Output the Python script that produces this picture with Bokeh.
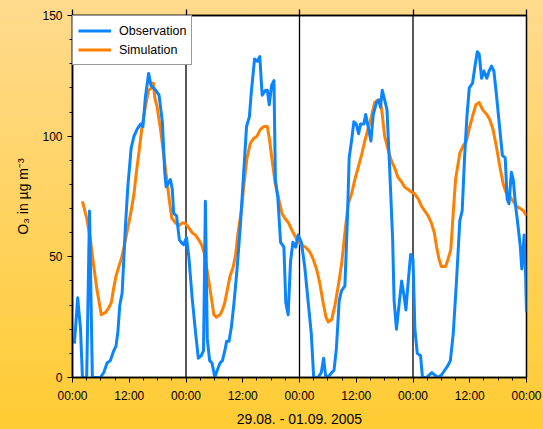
from bokeh.plotting import figure
from bokeh.models import Range1d, FixedTicker, LinearAxis, Span, Legend, LegendItem
from bokeh.embed import file_html
from bokeh.resources import INLINE

# ---- data (hours since 29.08.2005 00:00, O3 in ug/m3) ----
obs_hours = [0.4, 1.1, 1.7, 2.1, 3.0, 3.6, 4.2, 5.9, 6.6, 7.3, 8.0, 8.7, 9.2, 9.6, 10.0, 10.5,
             11.2, 11.7, 12.4, 13.0, 13.7, 14.4, 14.9, 15.4, 16.1, 16.6, 17.6, 18.3, 19.0, 19.5,
             19.8, 20.4, 20.7, 21.1, 21.4, 22.0, 22.6, 23.0, 23.5, 24.1, 24.6, 25.3, 26.0, 26.6,
             27.2, 27.7, 28.1, 28.5, 29.0, 29.5, 30.1, 30.6, 31.2, 31.7, 32.2, 32.6, 33.1, 33.6,
             34.1, 34.8, 35.5, 36.2, 36.8, 37.4, 37.8, 38.5, 39.1, 39.6, 40.1, 40.8, 41.2, 41.6,
             42.1, 42.6, 42.9, 43.4, 44.0, 44.7, 45.1, 45.6, 46.1, 46.6, 47.2, 47.7, 48.4, 49.1,
             49.8, 50.5, 51.0, 51.9, 52.6, 53.1, 53.5, 54.0, 54.8, 55.3, 55.8, 56.4, 56.9, 57.6,
             58.1, 58.5, 59.0, 59.5, 60.0, 60.5, 60.9, 61.6, 62.0, 62.5, 63.1, 63.6, 64.3, 64.8,
             65.1, 65.5, 66.0, 66.5, 67.1, 67.7, 68.0, 68.5, 69.1, 69.6, 70.1, 70.5, 71.0, 71.5,
             72.0, 72.4, 72.9, 73.6, 74.0, 74.9, 75.4, 76.0, 76.6, 77.3, 78.0, 78.7, 79.4, 79.9,
             80.5, 81.2, 81.9, 82.4, 82.9, 83.4, 83.9, 84.6, 85.1, 85.6, 86.0, 86.5, 87.0, 87.6,
             88.1, 88.6, 89.1, 89.6, 90.4, 90.9, 91.5, 91.9, 92.3, 92.8, 93.2, 93.7, 94.2, 94.7,
             95.0, 95.5, 95.8, 96.0]
obs_values = [14, 33, 20, 0, 0, 69, 0, 0, 2, 6, 7, 11, 13, 19, 30, 35,
              63, 79, 95, 100, 103, 105, 104, 116, 126, 121, 119, 117, 106, 85,
              79, 81, 82, 78, 68, 67, 57, 56, 55, 58, 50, 33, 19, 8,
              9, 11, 73, 16, 7, 6, 0, 3, 6, 7, 11, 15, 15, 21,
              30, 45, 63, 85, 104, 108, 118, 132, 131, 133, 117, 119, 119, 113,
              121, 123, 82, 75, 56, 54, 31, 26, 48, 56, 54, 59, 56, 46,
              32, 18, 0, 0, 2, 8, 1, 0, 2, 3, 12, 32, 36, 38,
              64, 91, 98, 106, 105, 101, 105, 105, 109, 104, 98, 109, 114, 115,
              112, 119, 115, 111, 85, 57, 32, 20, 31, 40, 34, 28, 40, 51,
              49, 20, 10, 9, 0, 0, 1, 2, 1, 0, 1, 3, 5, 7,
              18, 40, 65, 69, 91, 108, 120, 122, 129, 135, 134, 124, 127, 124,
              127, 129, 127, 118, 102, 92, 91, 74, 72, 85, 82, 71, 63, 54,
              45, 59, 43, 27]

sim_hours = [2.1, 3.0, 3.8, 4.5, 5.2, 6.1, 7.0, 7.7, 8.2, 8.7, 9.2, 9.8, 10.3, 10.9, 11.6, 12.3,
             13.0, 13.5, 14.1, 14.7, 15.4, 16.1, 16.7, 17.1, 17.4, 17.9, 18.6, 19.3, 20.0, 20.5,
             21.0, 21.8, 22.5, 23.2, 23.8, 24.6, 25.3, 26.0, 26.7, 27.3, 27.8, 28.5, 29.2, 29.9,
             30.4, 31.2, 31.7, 32.2, 32.7, 33.3, 34.0, 34.5, 35.0, 35.7, 36.2, 36.9, 37.6, 38.3,
             39.0, 39.8, 40.5, 41.2, 41.7, 42.2, 42.9, 43.6, 44.3, 44.9, 45.7, 46.4, 47.2, 47.9,
             48.4, 49.3, 50.2, 50.9, 51.6, 52.3, 53.0, 53.6, 54.1, 54.8, 55.5, 56.2, 56.9, 57.6,
             58.3, 59.0, 59.7, 60.4, 61.1, 61.8, 62.5, 63.2, 63.9, 64.6, 65.1, 65.5, 66.0, 66.8,
             67.4, 68.1, 68.8, 69.6, 70.2, 70.9, 71.6, 72.4, 73.1, 73.8, 74.5, 75.2, 75.9, 76.5,
             77.0, 77.5, 78.0, 78.9, 79.4, 80.0, 80.5, 81.0, 81.9, 82.6, 83.3, 84.0, 84.7, 85.3,
             86.0, 86.7, 87.6, 88.2, 88.9, 89.6, 90.4, 91.1, 91.8, 92.5, 93.2, 93.9, 94.7, 95.4,
             96.0]
sim_values = [73, 66, 57, 46, 36, 26, 27, 29, 31, 37, 42, 46, 49, 54, 61, 68,
              76, 85, 94, 104, 112, 119, 120, 122, 116, 112, 103, 92, 81, 73,
              66, 64, 63, 64, 64, 62, 60, 59, 57, 55, 52, 44, 35, 26,
              25, 26, 28, 31, 36, 42, 46, 51, 60, 69, 79, 91, 97, 99,
              100, 103, 104, 104, 98, 90, 80, 74, 68, 66, 64, 61, 58, 56,
              55, 54, 52, 49, 45, 39, 31, 25, 23, 24, 30, 38, 47, 60,
              72, 76, 82, 87, 92, 98, 103, 108, 114, 115, 115, 109, 100, 94,
              90, 87, 83, 81, 79, 78, 77, 76, 74, 71, 69, 67, 64, 60,
              54, 49, 46, 46, 49, 53, 68, 82, 93, 96, 98, 104, 109, 113,
              114, 111, 109, 107, 103, 96, 87, 80, 76, 75, 73, 71, 70, 69,
              67]

x_ticks = [0, 12, 24, 36, 48, 60, 72, 84, 96]
x_tick_labels = ["00:00", "12:00", "00:00", "12:00", "00:00", "12:00", "00:00", "12:00", "00:00"]
day_boundaries = [0, 24, 48, 72, 96]
y_ticks = [0, 50, 100, 150]

FONT = "Liberation Sans"
OBS_COLOR = "#0A85FF"
SIM_COLOR = "#FF8000"

p = figure(width=543, height=429, output_backend="svg", toolbar_location=None,
           x_range=Range1d(0, 96), y_range=Range1d(0, 150),
           min_border_left=72, min_border_right=17, min_border_top=15, min_border_bottom=50,
           x_axis_label="29.08. - 01.09. 2005", y_axis_label="O₃ in µg m⁻³")
p.border_fill_color = None
p.background_fill_color = "white"
p.styles = {"background": "linear-gradient(180deg, #FFDA8D 0%, #FFCC33 100%)"}
p.outline_line_color = "black"
p.outline_line_width = 1.5
p.xgrid.visible = False
p.ygrid.visible = False

# day separators
for d in day_boundaries[1:-1]:
    p.add_layout(Span(location=d, dimension="height", line_color="black",
                      line_width=1.3, level="underlay"))

r_sim = p.line(sim_hours, sim_values, line_color=SIM_COLOR, line_width=3, line_join="round")
r_obs = p.line(obs_hours, obs_values, line_color=OBS_COLOR, line_width=3, line_join="round")

# x axis
xa = p.xaxis[0]
xa.ticker = FixedTicker(ticks=x_ticks, minor_ticks=list(range(0, 97, 3)))
xa.major_label_overrides = {t: lab for t, lab in zip(x_ticks, x_tick_labels)}
# y axis
ya = p.yaxis[0]
ya.ticker = FixedTicker(ticks=y_ticks, minor_ticks=list(range(0, 151, 10)))

for ax in (xa, ya):
    ax.axis_line_color = "black"
    ax.axis_line_width = 1.5
    ax.major_tick_line_color = "black"
    ax.minor_tick_line_color = "black"
    ax.major_tick_in = 0
    ax.major_tick_out = 5
    ax.minor_tick_in = 0
    ax.minor_tick_out = 3
    ax.major_label_text_font = FONT
    ax.major_label_text_font_size = "12px"
    ax.major_label_text_color = "black"
    ax.axis_label_text_font = FONT
    ax.axis_label_text_font_size = "14px"
    ax.axis_label_text_font_style = "normal"
    ax.axis_label_text_color = "black"
xa.major_label_standoff = 6
xa.axis_label_standoff = 5
ya.major_label_standoff = 5
ya.axis_label_standoff = 8

# top axis: only tick marks at the day boundaries (no labels)
ta = LinearAxis(ticker=FixedTicker(ticks=day_boundaries, minor_ticks=[]))
ta.axis_line_color = "black"
ta.axis_line_width = 1.5
ta.major_tick_in = 0
ta.major_tick_out = 6
ta.major_tick_line_color = "black"
ta.major_tick_line_width = 1.3
ta.major_label_overrides = {d: "" for d in day_boundaries}
ta.major_label_text_font_size = "1px"
ta.major_label_standoff = 0
p.add_layout(ta, "above")

legend = Legend(items=[LegendItem(label="Observation", renderers=[r_obs]),
                       LegendItem(label="Simulation", renderers=[r_sim])],
                location="top_left", margin=0, padding=5, spacing=0,
                glyph_width=33, glyph_height=19, label_height=19, label_standoff=8,
                label_text_font=FONT, label_text_font_size="12.5px", label_text_color="black",
                border_line_color="#333333", border_line_width=1.5,
                background_fill_color="white", background_fill_alpha=1)
p.add_layout(legend)

open("out.html", "w").write(file_html(p, INLINE))
